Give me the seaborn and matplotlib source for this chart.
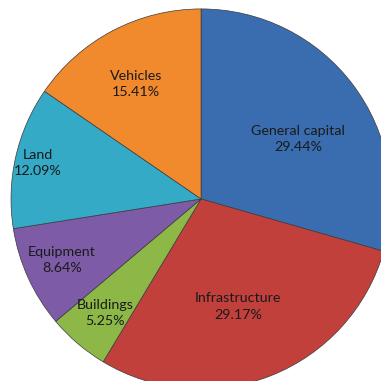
import numpy as np
import matplotlib
matplotlib.use("Agg")
import matplotlib.pyplot as plt
import seaborn as sns

sns.set_theme(style="white")
plt.rcParams['font.family'] = ['Lato', 'DejaVu Sans']

categories = ["General capital", "Infrastructure", "Buildings", "Equipment", "Land", "Vehicles"]
shares = [29.44, 29.17, 5.25, 8.64, 12.09, 15.41]
colors = ["#3A6DB0", "#C2403C", "#8DB848", "#7D5BA6", "#35AAC6", "#F08A2C"]

# label placement: radial distance and angular nudge (degrees) per slice
label_radius = [0.60, 0.60, 0.785, 0.80, 0.88, 0.695]
label_nudge = [-5.3, -2.4, 0.3, -0.9, 0.4, 1.8]

fig = plt.figure(figsize=(3.81, 3.81), dpi=100)
ax = fig.add_axes([0, 0, 1, 1])

wedges, _ = ax.pie(shares, colors=colors, startangle=90, counterclock=False,
                   radius=1.0, center=(0, 0),
                   wedgeprops=dict(edgecolor="#3a3a3a", linewidth=0.5))

for w, name, val, r, d in zip(wedges, categories, shares, label_radius, label_nudge):
    mid = np.deg2rad((w.theta1 + w.theta2) / 2 + d)
    ax.text(r * np.cos(mid), r * np.sin(mid), f"{name}\n{val:.2f}%",
            ha="center", va="center", fontsize=10.3, color="#1a1a1a",
            linespacing=1.45)

ax.set_xlim(-1.058, 0.947)
ax.set_ylim(-0.958, 1.047)
ax.set_aspect("equal")
ax.axis("off")

fig.savefig("out.png", dpi=100, facecolor="white")
